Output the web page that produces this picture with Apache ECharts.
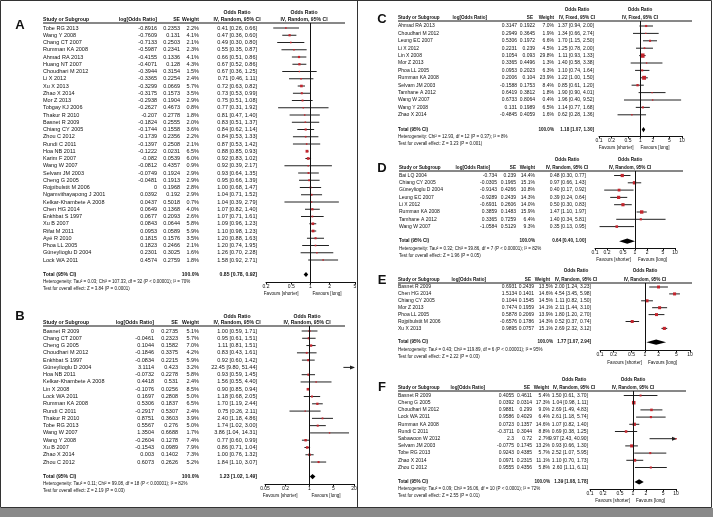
<!DOCTYPE html>
<html>
<head>
<meta charset="utf-8">
<script src="https://cdn.jsdelivr.net/npm/echarts@6/dist/echarts.min.js"></script>
<style>
  html, body { margin: 0; padding: 0; background: #fff; }
  #chart { width: 713px; height: 517px; }
</style>
</head>
<body>
<div id="chart"></div>
<script>
// ---- panel A ----
const studiesA = ['Tobe RG 2013', 'Wang Y 2008', 'Chang CT 2007', 'Rumman KA 2008', 'Ahmad RA 2013', 'Huang NT 2007',
  'Choudhari M 2012', 'Li X 2012', 'Xu X 2013', 'Zhao X 2014', 'Mor Z 2013', 'Tobgay KJ 2006', 'Thakur R 2010',
  'Basnet R 2009', 'Chiang CY 2005', 'Zhou C 2012', 'Rundi C 2011', 'Hoa NB 2011', 'Karim F 2007', 'Wang W 2007',
  'Selvam JM 2003', 'Cheng G 2005', 'Rojpibulstit M 2006', 'Ngamvithayapong J 2001', 'Kelkar-Khambete A 2008',
  'Chen HG 2014', 'Enkhbat S 1997', 'Xu B 2007', 'Rifat M 2011', 'Ayé R 2010', 'Phoa LL 2005', 'Güneylioglu D 2004',
  'Lock WA 2011'];
const logA = [-0.8916, -0.7609, -0.7133, -0.5987, -0.4155, -0.4071, -0.3944, -0.3365, -0.3299, -0.3175, -0.2938,
  -0.2627, -0.207, -0.1824, -0.1744, -0.1739, -0.1397, -0.1222, -0.082, -0.0812, -0.0749, -0.0481, 0, 0.0392, 0.0437,
  0.0649, 0.0677, 0.0843, 0.0953, 0.1815, 0.1823, 0.2301, 0.4574];
const seA = [0.2353, 0.131, 0.2503, 0.2341, 0.1336, 0.128, 0.3154, 0.2254, 0.0669, 0.1573, 0.1904, 0.4673, 0.2778,
  0.2555, 0.1558, 0.2356, 0.2508, 0.0231, 0.0539, 0.4357, 0.1924, 0.1913, 0.1968, 0.192, 0.5018, 0.1368, 0.2093,
  0.0644, 0.0589, 0.1576, 0.2466, 0.3025, 0.2759];
const weightA = [2.2, 4.1, 2.1, 2.3, 4.1, 4.3, 1.5, 2.4, 5.7, 3.5, 2.9, 0.8, 1.8, 2.0, 3.6, 2.2, 2.1, 6.5, 6.0, 0.9,
  2.9, 2.9, 2.8, 2.9, 0.7, 4.0, 2.6, 5.8, 5.9, 3.5, 2.1, 1.6, 1.8];
const orA = [0.41, 0.47, 0.49, 0.55, 0.66, 0.67, 0.67, 0.71, 0.72, 0.73, 0.75, 0.77, 0.81, 0.83, 0.84, 0.84, 0.87,
  0.88, 0.92, 0.92, 0.93, 0.95, 1.00, 1.04, 1.04, 1.07, 1.07, 1.09, 1.10, 1.20, 1.20, 1.26, 1.58];
const lowA = [0.26, 0.36, 0.30, 0.35, 0.51, 0.52, 0.36, 0.46, 0.63, 0.53, 0.51, 0.31, 0.47, 0.51, 0.62, 0.53, 0.53,
  0.85, 0.83, 0.39, 0.64, 0.66, 0.68, 0.71, 0.39, 0.82, 0.71, 0.96, 0.98, 0.88, 0.74, 0.70, 0.92];
const highA = [0.66, 0.60, 0.80, 0.87, 0.86, 0.86, 1.25, 1.11, 0.82, 0.99, 1.08, 1.92, 1.40, 1.37, 1.14, 1.33, 1.42,
  0.93, 1.02, 2.17, 1.35, 1.39, 1.47, 1.52, 2.79, 1.40, 1.61, 1.23, 1.23, 1.63, 1.95, 2.28, 2.71];
const totalA = [0.85, 0.78, 0.92];
const ticksA = [0.2, 0.5, 1, 2, 5];
const hetA = 'Heterogeneity: Tau² = 0.03; Chi² = 107.33, df = 32 (P < 0.00001); I² = 70%';
const testA = 'Test for overall effect: Z = 3.84 (P = 0.0001)';

// ---- panel B ----
const studiesB = ['Basnet R 2009', 'Chang CT 2007', 'Cheng G 2005', 'Choudhari M 2012', 'Enkhbat S 1997',
  'Güneylioglu D 2004', 'Hoa NB 2011', 'Kelkar-Khambete A 2008', 'Lin X 2008', 'Lock WA 2011', 'Rumman KA 2008',
  'Rundi C 2011', 'Thakur R 2010', 'Tobe RG 2013', 'Wang W 2007', 'Wang Y 2008', 'Xu B 2007', 'Zhao X 2014',
  'Zhou C 2012'];
const logB = [0, -0.0461, 0.1044, -0.1846, -0.0834, 3.1114, -0.0732, 0.4418, -0.1076, 0.1697, 0.5306, -0.2917,
  0.8751, 0.5567, 1.3504, -0.2604, -0.1543, 0.003, 0.6073];
const seB = [0.2735, 0.2323, 0.1582, 0.3375, 0.2215, 0.423, 0.2278, 0.531, 0.0256, 0.2808, 0.1837, 0.5307, 0.3603,
  0.276, 0.6688, 0.1278, 0.0989, 0.1402, 0.2626];
const weightB = [5.1, 5.7, 7.0, 4.2, 5.9, 3.2, 5.8, 2.4, 8.5, 5.0, 6.5, 2.4, 3.9, 5.0, 1.7, 7.4, 7.9, 7.3, 5.2];
const orB = [1.00, 0.95, 1.11, 0.83, 0.92, 22.45, 0.93, 1.56, 0.90, 1.18, 1.70, 0.75, 2.40, 1.74, 3.86, 0.77, 0.86,
  1.00, 1.84];
const lowB = [0.59, 0.61, 0.81, 0.43, 0.60, 9.80, 0.59, 0.55, 0.85, 0.68, 1.19, 0.26, 1.18, 1.02, 1.04, 0.60, 0.71,
  0.76, 1.10];
const highB = [1.71, 1.51, 1.51, 1.61, 1.42, 51.44, 1.45, 4.40, 0.94, 2.05, 2.44, 2.11, 4.86, 3.00, 14.31, 0.99, 1.04,
  1.32, 3.07];
const totalB = [1.23, 1.02, 1.49];
const ticksB = [0.05, 0.2, 1, 5, 20];
const hetB = 'Heterogeneity: Tau² = 0.11; Chi² = 99.08, df = 18 (P < 0.00001); I² = 82%';
const testB = 'Test for overall effect: Z = 2.19 (P = 0.03)';

// ---- panel C ----
const studiesC = ['Ahmad RA 2013', 'Choudhari M 2012', 'Leung EC 2007', 'Li X 2012', 'Lin X 2008', 'Mor Z 2013',
  'Phoa LL 2005', 'Rumman KA 2008', 'Selvam JM 2003', 'Tamhane A 2012', 'Wang W 2007', 'Wang Y 2008', 'Zhao X 2014'];
const logC = [0.3147, 0.2949, 0.5306, 0.2231, 0.1054, 0.3365, 0.0953, 0.2006, -0.1588, 0.6419, 0.6733, 0.131, -0.4845];
const seC = [0.1922, 0.3645, 0.1972, 0.239, 0.093, 0.4496, 0.2023, 0.104, 0.1753, 0.3812, 0.8064, 0.1989, 0.4059];
const weightC = [7.0, 1.9, 6.6, 4.5, 29.8, 1.3, 6.3, 23.9, 8.4, 1.8, 0.4, 6.5, 1.6];
const orC = [1.37, 1.34, 1.70, 1.25, 1.11, 1.40, 1.10, 1.22, 0.85, 1.90, 1.96, 1.14, 0.62];
const lowC = [0.94, 0.66, 1.15, 0.78, 0.93, 0.58, 0.74, 1.00, 0.61, 0.90, 0.40, 0.77, 0.28];
const highC = [2.00, 2.74, 2.50, 2.00, 1.33, 3.38, 1.64, 1.50, 1.20, 4.01, 9.52, 1.68, 1.36];
const totalC = [1.18, 1.07, 1.30];
const ticksC = [0.1, 0.2, 0.5, 1, 2, 5, 10];
const hetC = 'Heterogeneity: Chi² = 12.93, df = 12 (P = 0.37); I² = 8%';
const testC = 'Test for overall effect: Z = 3.23 (P = 0.001)';

// ---- panel D ----
const studiesD = ['Bai LQ 2004', 'Chiang CY 2005', 'Güneylioglu D 2004', 'Leung EC 2007', 'Li X 2012',
  'Rumman KA 2008', 'Tamhane A 2012', 'Wang W 2007'];
const logD = [-0.734, -0.0305, -0.9143, -0.9289, -0.6931, 0.3859, 0.3365, -1.0584];
const seD = [0.239, 0.1965, 0.4266, 0.2439, 0.2606, 0.1483, 0.7259, 0.5129];
const weightD = [14.4, 15.1, 10.8, 14.3, 14.0, 15.9, 6.4, 9.3];
const orD = [0.48, 0.97, 0.40, 0.39, 0.50, 1.47, 1.40, 0.35];
const lowD = [0.30, 0.66, 0.17, 0.24, 0.30, 1.10, 0.34, 0.13];
const highD = [0.77, 1.43, 0.92, 0.64, 0.83, 1.97, 5.81, 0.95];
const totalD = [0.64, 0.40, 1.00];
const ticksD = [0.1, 0.2, 0.5, 1, 2, 5, 10];
const hetD = 'Heterogeneity: Tau² = 0.32; Chi² = 39.86, df = 7 (P < 0.00001); I² = 82%';
const testD = 'Test for overall effect: Z = 1.96 (P = 0.05)';

// ---- panel E ----
const studiesE = ['Basnet R 2009', 'Chen HG 2014', 'Chiang CY 2005', 'Mor Z 2013', 'Phoa LL 2005',
  'Rojpibulstit M 2006', 'Xu X 2013'];
const logE = [0.6931, 1.5134, 0.1044, 0.7474, 0.5878, -0.6576, 0.9895];
const seE = [0.2439, 0.1401, 0.1545, 0.1959, 0.2069, 0.1786, 0.0757];
const weightE = [13.5, 14.6, 14.5, 14.1, 13.9, 14.3, 15.1];
const orE = [2.00, 4.54, 1.11, 2.11, 1.80, 0.52, 2.69];
const lowE = [1.24, 3.45, 0.82, 1.44, 1.20, 0.37, 2.32];
const highE = [3.23, 5.98, 1.50, 3.10, 2.70, 0.74, 3.12];
const totalE = [1.77, 1.07, 2.94];
const ticksE = [0.1, 0.2, 0.5, 1, 2, 5, 10];
const hetE = 'Heterogeneity: Tau² = 0.43; Chi² = 119.89, df = 6 (P < 0.00001); I² = 95%';
const testE = 'Test for overall effect: Z = 2.22 (P = 0.03)';

// ---- panel F ----
const studiesF = ['Basnet R 2009', 'Cheng G 2005', 'Choudhari M 2012', 'Lock WA 2011', 'Rumman KA 2008',
  'Rundi C 2011', 'Sabawoon W 2012', 'Selvam JM 2003', 'Tobe RG 2013', 'Zhao X 2014', 'Zhou C 2012'];
const logF = [0.4055, 0.0392, 0.9881, 0.9586, 0.0723, -0.3711, 2.3, -0.0775, 0.9243, 0.0971, 0.9555];
const seF = [0.4611, 0.0314, 0.299, 0.4029, 0.1357, 0.3044, 0.72, 0.1745, 0.4385, 0.2315, 0.4356];
const weightF = [5.4, 17.3, 9.0, 6.4, 14.6, 8.8, 2.7, 13.2, 5.7, 11.1, 5.8];
const orF = [1.50, 1.04, 2.69, 2.61, 1.07, 0.69, 9.97, 0.93, 2.52, 1.10, 2.60];
const lowF = [0.61, 0.98, 1.49, 1.18, 0.82, 0.38, 2.43, 0.66, 1.07, 0.70, 1.11];
const highF = [3.70, 1.11, 4.83, 5.74, 1.40, 1.25, 40.90, 1.30, 5.95, 1.73, 6.11];
const totalF = [1.39, 1.08, 1.78];
const ticksF = [0.1, 0.2, 0.5, 1, 2, 5, 10];
const hetF = 'Heterogeneity: Tau² = 0.09; Chi² = 36.06, df = 10 (P < 0.0001); I² = 72%';
const testF = 'Test for overall effect: Z = 2.55 (P = 0.01)';

const panels = [
  { key: 'A', studies: studiesA, log: logA, se: seA, weight: weightA, or: orA, low: lowA, high: highA, total: totalA, ticks: ticksA, het: hetA, test: testA, model: 'IV, Random, 95% CI' },
  { key: 'B', studies: studiesB, log: logB, se: seB, weight: weightB, or: orB, low: lowB, high: highB, total: totalB, ticks: ticksB, het: hetB, test: testB, model: 'IV, Random, 95% CI' },
  { key: 'C', studies: studiesC, log: logC, se: seC, weight: weightC, or: orC, low: lowC, high: highC, total: totalC, ticks: ticksC, het: hetC, test: testC, model: 'IV, Fixed, 95% CI' },
  { key: 'D', studies: studiesD, log: logD, se: seD, weight: weightD, or: orD, low: lowD, high: highD, total: totalD, ticks: ticksD, het: hetD, test: testD, model: 'IV, Random, 95% CI' },
  { key: 'E', studies: studiesE, log: logE, se: seE, weight: weightE, or: orE, low: lowE, high: highE, total: totalE, ticks: ticksE, het: hetE, test: testE, model: 'IV, Random, 95% CI' },
  { key: 'F', studies: studiesF, log: logF, se: seF, weight: weightF, or: orF, low: lowF, high: highF, total: totalF, ticks: ticksF, het: hetF, test: testF, model: 'IV, Random, 95% CI' }
];

// where each panel sits on the page
const layouts = {
  A: { letter: [20, 25], orHead: 13, head: 20, line: [43, 345, 23], row0: 28, pitch: 7.25, fs: 5.5, hfs: 5.1,
       col: { log: 157, se: 180, weight: 199, or: 257 }, hcol: { log: 157, se: 180, weight: 199, or: 237, plot: 304 },
       plot: [266, 355], axisY: 282, favY: 294, fav: [12, 2], het: 282, test: 289, sq: 1.1 },
  B: { letter: [20, 316], orHead: 317, head: 323, line: [43, 345, 326], row0: 331, pitch: 7.28, fs: 5.5, hfs: 5.1,
       col: { log: 154, se: 178, weight: 199, or: 257 }, hcol: { log: 154, se: 178, weight: 199, or: 237, plot: 307 },
       plot: [265, 354], axisY: 484, favY: 496, fav: [12, 2], het: 484, test: 491, sq: 0.9 },
  C: { letter: [382, 19], orHead: 10, head: 18, line: [398, 692, 21], row0: 26, pitch: 7.4, fs: 5, hfs: 4.6,
       col: { log: 517, se: 535, weight: 554, or: 594 }, hcol: { log: 487, se: 533, weight: 554, or: 577, plot: 640 },
       plot: [599, 682], axisY: 136, favY: 148, fav: [7, 0], het: 137, test: 144, sq: 0.8 },
  D: { letter: [382, 168], orHead: 160, head: 168, line: [399, 683, 171], row0: 175.5, pitch: 7.3, fs: 5, hfs: 4.6,
       col: { log: 497, se: 516, weight: 535, or: 586 }, hcol: { log: 490, se: 516, weight: 535, or: 567, plot: 630 },
       plot: [595, 675], axisY: 248, favY: 260, fav: [4, 3], het: 249, test: 256, sq: 0.85 },
  E: { letter: [382, 280], orHead: 271, head: 280, line: [398, 692, 283], row0: 287, pitch: 6.9, fs: 5, hfs: 4.6,
       col: { log: 517, se: 534, weight: 553, or: 591 }, hcol: { log: 486, se: 531, weight: 550, or: 576, plot: 645 },
       plot: [600, 690], axisY: 350, favY: 363, fav: [3, 3], het: 350, test: 357, sq: 0.8 },
  F: { letter: [382, 387], orHead: 380, head: 388, line: [398, 686, 391], row0: 395.5, pitch: 7.2, fs: 5, hfs: 4.6,
       col: { log: 514, se: 532, weight: 550, or: 588 }, hcol: { log: 485, se: 530, weight: 549, or: 574, plot: 633 },
       plot: [590, 676], axisY: 489, favY: 501, fav: [3, 3], het: 489, test: 496, sq: 0.85 }
};

const FONT = '"Liberation Sans", Arial, Helvetica, sans-serif';
const INK = '#111';

function txt(x, y, s, size, align, bold) {
  const a = align || 'left';
  return {
    type: 'text', x: x, y: y, silent: true,
    style: {
      text: s, font: (bold ? 'bold ' : '') + size + 'px ' + FONT, fill: INK,
      align: a, textAlign: a, verticalAlign: 'middle', textVerticalAlign: 'middle'
    }
  };
}
function hline(x1, x2, y, w, color) {
  return { type: 'line', silent: true, shape: { x1: x1, y1: y, x2: x2, y2: y }, style: { stroke: color || INK, lineWidth: w || 1 } };
}
function fmtCI(o, l, h) {
  return o.toFixed(2) + ' [' + l.toFixed(2) + ', ' + h.toFixed(2) + ']';
}
function tickLabel(ticks) {
  return function (v) {
    for (const t of ticks) if (Math.abs(Math.log(t) - v) < 1e-6) return String(t);
    return '';
  };
}

function renderStudy(k) {
  return function (params, api) {
    const cs = params.coordSys;
    const row = api.value(3);
    const p0 = api.coord([api.value(0), row]);
    const p1 = api.coord([api.value(1), row]);
    const pc = api.coord([api.value(2), row]);
    const xMin = cs.x, xMax = cs.x + cs.width;
    const y = p0[1];
    const x0 = Math.max(p0[0], xMin), x1 = Math.min(p1[0], xMax);
    const children = [{ type: 'line', shape: { x1: x0, y1: y, x2: x1, y2: y }, style: { stroke: '#222', lineWidth: 1 } }];
    if (p1[0] > xMax) {
      children.push({ type: 'polygon', shape: { points: [[xMax + 1, y], [xMax - 4, y - 2], [xMax - 4, y + 2]] }, style: { fill: '#222' } });
    }
    if (p0[0] < xMin) {
      children.push({ type: 'polygon', shape: { points: [[xMin - 1, y], [xMin + 4, y - 2], [xMin + 4, y + 2]] }, style: { fill: '#222' } });
    }
    if (pc[0] >= xMin && pc[0] <= xMax) {
      const s = Math.max(1.4, k * Math.sqrt(api.value(4)));
      children.push({ type: 'rect', shape: { x: pc[0] - s / 2, y: y - s / 2, width: s, height: s }, style: { fill: '#c3262e' } });
    }
    return { type: 'group', children: children };
  };
}
function renderDiamond(params, api) {
  const row = api.value(3);
  const a = api.coord([api.value(0), row]);
  const b = api.coord([api.value(2), row]);
  const c = api.coord([api.value(1), row]);
  const h = 2.6;
  return {
    type: 'polygon',
    shape: { points: [[a[0], a[1]], [b[0], b[1] - h], [c[0], c[1]], [b[0], b[1] + h]] },
    style: { fill: '#000' }
  };
}

const elements = [];
const grids = [], xAxes = [], yAxes = [], series = [];

panels.forEach(function (p, gi) {
  const L = layouts[p.key];
  const n = p.studies.length;
  const rowY = function (i) { return L.row0 + i * L.pitch; };

  // panel letter and headers
  elements.push(txt(L.letter[0], L.letter[1], p.key, 13, 'center', true));
  elements.push(txt(L.hcol.or, L.orHead, 'Odds Ratio', L.hfs, 'center', true));
  elements.push(txt(L.hcol.plot, L.orHead, 'Odds Ratio', L.hfs, 'center', true));
  elements.push(txt(L.line[0], L.head, 'Study or Subgroup', L.hfs, 'left', true));
  elements.push(txt(L.hcol.log, L.head, 'log[Odds Ratio]', L.hfs, 'right', true));
  elements.push(txt(L.hcol.se, L.head, 'SE', L.hfs, 'right', true));
  elements.push(txt(L.hcol.weight, L.head, 'Weight', L.hfs, 'right', true));
  elements.push(txt(L.hcol.or, L.head, p.model, L.hfs, 'center', true));
  elements.push(txt(L.hcol.plot, L.head, p.model, L.hfs, 'center', true));
  elements.push(hline(L.line[0], L.line[1], L.line[2], 1));

  // study rows
  p.studies.forEach(function (s, i) {
    const y = rowY(i);
    elements.push(txt(L.line[0], y, s, L.fs, 'left'));
    elements.push(txt(L.col.log, y, String(p.log[i]), L.fs, 'right'));
    elements.push(txt(L.col.se, y, String(p.se[i]), L.fs, 'right'));
    elements.push(txt(L.col.weight, y, p.weight[i].toFixed(1) + '%', L.fs, 'right'));
    elements.push(txt(L.col.or, y, fmtCI(p.or[i], p.low[i], p.high[i]), L.fs, 'right'));
  });

  // total + footnotes
  const ty = rowY(n + 1);
  elements.push(txt(L.line[0], ty, 'Total (95% CI)', L.hfs, 'left', true));
  elements.push(txt(L.col.weight, ty, '100.0%', L.hfs, 'right', true));
  elements.push(txt(L.col.or, ty, fmtCI(p.total[0], p.total[1], p.total[2]), L.hfs, 'right', true));
  elements.push(txt(L.line[0], L.het, p.het, 4.5, 'left'));
  elements.push(txt(L.line[0], L.test, p.test, 4.5, 'left'));

  // favours labels around the null line
  const lnMin = Math.log(p.ticks[0]), lnMax = Math.log(p.ticks[p.ticks.length - 1]);
  const x1 = L.plot[0] + (0 - lnMin) / (lnMax - lnMin) * (L.plot[1] - L.plot[0]);
  elements.push(txt(x1 - L.fav[0], L.favY, 'Favours [shorter]', 4.6, 'right'));
  elements.push(txt(x1 + L.fav[1], L.favY, 'Favours [long]', 4.6, 'left'));

  // forest plot on a ln(OR) value axis
  grids.push({ left: L.plot[0], width: L.plot[1] - L.plot[0], top: L.line[2], height: L.axisY - L.line[2] });
  const tickVals = p.ticks.map(function (t) { return Math.log(t); });
  xAxes.push({
    type: 'value', gridIndex: gi, min: lnMin, max: lnMax,
    axisLine: { show: true, onZero: false, lineStyle: { color: INK, width: 1 } },
    axisTick: { show: true, customValues: tickVals, length: 2.5, lineStyle: { color: INK } },
    axisLabel: { show: true, customValues: tickVals, formatter: tickLabel(p.ticks), fontSize: 5, fontFamily: FONT, color: INK, margin: 2 },
    splitLine: { show: false }
  });
  yAxes.push({
    type: 'value', gridIndex: gi, inverse: true,
    min: (L.line[2] - L.row0) / L.pitch, max: (L.axisY - L.row0) / L.pitch,
    axisLine: { show: false }, axisTick: { show: false }, axisLabel: { show: false }, splitLine: { show: false }
  });
  series.push({
    type: 'custom', xAxisIndex: gi, yAxisIndex: gi, silent: true,
    renderItem: renderStudy(L.sq),
    encode: { x: [0, 1, 2], y: 3 },
    data: p.studies.map(function (s, i) {
      return [Math.log(p.low[i]), Math.log(p.high[i]), Math.log(p.or[i]), i, p.weight[i]];
    }),
    markLine: {
      silent: true, symbol: 'none', animation: false,
      label: { show: false },
      lineStyle: { color: INK, width: 1, type: 'solid' },
      data: [{ xAxis: 0 }]
    }
  });
  series.push({
    type: 'custom', xAxisIndex: gi, yAxisIndex: gi, silent: true,
    renderItem: renderDiamond,
    encode: { x: [0, 1, 2], y: 3 },
    data: [[Math.log(p.total[1]), Math.log(p.total[2]), Math.log(p.total[0]), n + 1]]
  });
});

// frame
elements.push({ type: 'rect', silent: true, shape: { x: 0, y: 508, width: 713, height: 9 }, style: { fill: '#8a8a8a' } });
elements.push({ type: 'rect', silent: true, shape: { x: 0.5, y: 0.5, width: 711, height: 507 }, style: { fill: 'none', stroke: '#333', lineWidth: 1 } });
elements.push({ type: 'line', silent: true, shape: { x1: 357.5, y1: 0, x2: 357.5, y2: 508 }, style: { stroke: '#333', lineWidth: 1 } });

const chart = echarts.init(document.getElementById('chart'));
chart.setOption({
  animation: false,
  backgroundColor: '#fff',
  grid: grids,
  xAxis: xAxes,
  yAxis: yAxes,
  series: series,
  graphic: { elements: elements }
});
</script>
</body>
</html>
